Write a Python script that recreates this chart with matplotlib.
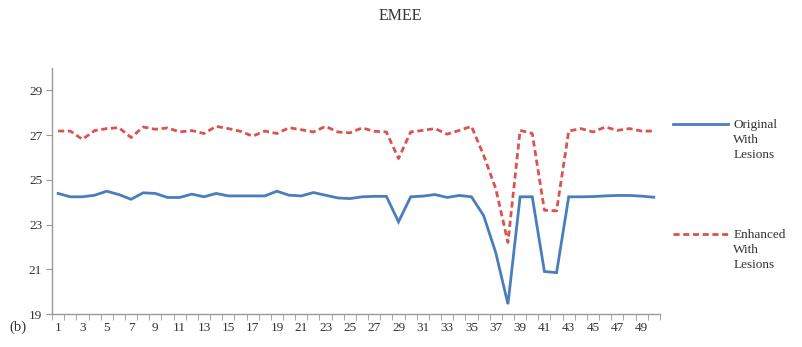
import matplotlib
matplotlib.use("Agg")
import matplotlib.pyplot as plt
import numpy as np

images = list(range(1, 51))
original = [24.39, 24.24, 24.24, 24.31, 24.49, 24.34, 24.13, 24.42, 24.39, 24.21,
            24.21, 24.36, 24.24, 24.39, 24.28, 24.28, 24.28, 24.28, 24.49, 24.31,
            24.28, 24.43, 24.31, 24.19, 24.16, 24.24, 24.26, 24.26, 23.12, 24.24,
            24.27, 24.34, 24.21, 24.30, 24.24, 23.40, 21.74, 19.44, 24.24, 24.24,
            20.90, 20.85, 24.24, 24.24, 24.25, 24.28, 24.30, 24.30, 24.27, 24.22]
enhanced = [27.18, 27.18, 26.81, 27.20, 27.29, 27.33, 26.89, 27.36, 27.26, 27.32,
            27.14, 27.20, 27.07, 27.39, 27.29, 27.17, 26.95, 27.18, 27.07, 27.33,
            27.24, 27.14, 27.39, 27.14, 27.10, 27.32, 27.17, 27.14, 25.95, 27.14,
            27.21, 27.29, 27.04, 27.21, 27.39, 26.10, 24.60, 22.20, 27.21, 27.07,
            23.64, 23.61, 27.18, 27.29, 27.14, 27.36, 27.21, 27.29, 27.18, 27.18]
xtick_labels = [str(i) for i in range(1, 50, 2)]
yticks = [19, 21, 23, 25, 27, 29]

plt.rcParams['font.family'] = ['Liberation Serif', 'DejaVu Serif']

fig = plt.figure(figsize=(8.03, 3.47), dpi=100)
ax = fig.add_axes([0.0648, 0.0951, 0.757, 0.709])

ax.plot(images, original, color='#4a7ebb', lw=2.0, solid_joinstyle='miter')
ax.plot(images, enhanced, color='#d9534f', lw=2.0, linestyle=(0, (2.2, 1.3)))

ax.set_xlim(0.5, 50.5)
ax.set_ylim(19, 30)
ax.set_yticks(yticks)
ax.set_yticklabels([str(v) for v in yticks], fontsize=9.5, color='#333333')
ax.set_xticks(list(range(1, 50, 2)))
ax.set_xticklabels(xtick_labels, fontsize=9.5, color='#333333')
ax.set_xticks(np.arange(0.5, 51, 1), minor=True)
ax.tick_params(axis='x', which='major', length=0, pad=6)
ax.tick_params(axis='x', which='minor', length=4, color='#999999', direction='out')
ax.tick_params(axis='y', which='major', length=4, color='#999999', direction='out', pad=3)

for s in ['top', 'right']:
    ax.spines[s].set_visible(False)
for s in ['left', 'bottom']:
    ax.spines[s].set_color('#999999')
    ax.spines[s].set_linewidth(1.0)

fig.text(0.498, 0.955, 'EMEE', ha='center', va='center', fontsize=11.5, color='#333333')
fig.text(0.012, 0.058, '(b)', ha='left', va='center', fontsize=10.5, color='#333333')

# legend entries
y1 = 1 - 124 / 347
y2 = 1 - 234 / 347
fig.lines.append(plt.Line2D([0.838, 0.906], [y1, y1], transform=fig.transFigure,
                            color='#4a7ebb', lw=2.0))
fig.lines.append(plt.Line2D([0.838, 0.906], [y2, y2], transform=fig.transFigure,
                            color='#d9534f', lw=2.0, linestyle=(0, (2.2, 1.3))))
fig.text(0.913, y1 + 0.014, 'Original\nWith\nLesions', ha='left', va='top', fontsize=9.5,
         color='#333333', linespacing=1.35)
fig.text(0.913, y2 + 0.014, 'Enhanced\nWith\nLesions', ha='left', va='top', fontsize=9.5,
         color='#333333', linespacing=1.35)

fig.savefig('out.png', dpi=100)
